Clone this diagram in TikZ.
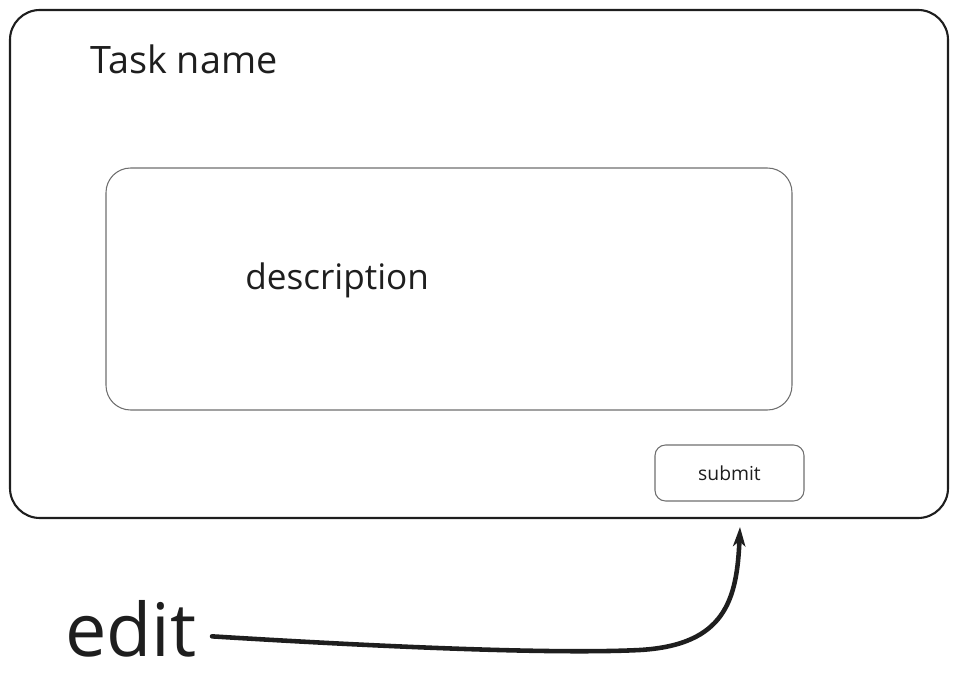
\documentclass[tikz,border=0pt]{standalone}
\usepackage{fontspec}
\setmainfont{Open Sans}
\definecolor{ink}{RGB}{30,30,30}
\definecolor{boxgray}{RGB}{110,110,110}
\usetikzlibrary{positioning,arrows.meta}

\begin{document}
\begin{tikzpicture}[x=0.02cm,y=-0.02cm,
  frame/.style={draw=ink,line width=1.2pt,rounded corners=17pt},
  field/.style={draw=boxgray,line width=0.6pt,rounded corners=14pt},
  btn/.style={draw=boxgray,line width=0.6pt,rounded corners=6pt,
              minimum width=149*0.02cm,minimum height=56*0.02cm,
              inner sep=0pt,font=\fontsize{11}{13}\selectfont,text=ink},
  lbl/.style={inner sep=0pt,text=ink},
  link/.style={draw=ink,line width=2.6pt,line cap=round,
               -{Stealth[length=11pt,width=7pt,inset=3pt]}}]
  \useasboundingbox (0,0) rectangle (958,689);
  % card
  \draw[frame] (10,10) rectangle (948,518);
  \node[lbl,anchor=base west,font=\fontsize{21.5}{26}\selectfont] (title) at (90,74) {Task name};
  % description field
  \draw[field] (106,168) rectangle (792,410);
  \node[lbl,anchor=base west,font=\fontsize{20}{24}\selectfont] (desc) at (245,290) {description};
  % button
  \node[btn] (submit) at (729.5,473) {submit};
  % edit arrow
  \node[lbl,anchor=base west,font=\fontsize{42}{50}\selectfont] (edit) at (65,657) {edit};
  \coordinate (tip) at (740,527);
  \coordinate (bend) at (640,650);
  \draw[link] ([xshift=0.3cm,yshift=-4pt]edit.east) .. controls (400,648) and (560,654) .. (bend)
    .. controls (725,645) and (737,600) .. (tip);
\end{tikzpicture}
\end{document}
